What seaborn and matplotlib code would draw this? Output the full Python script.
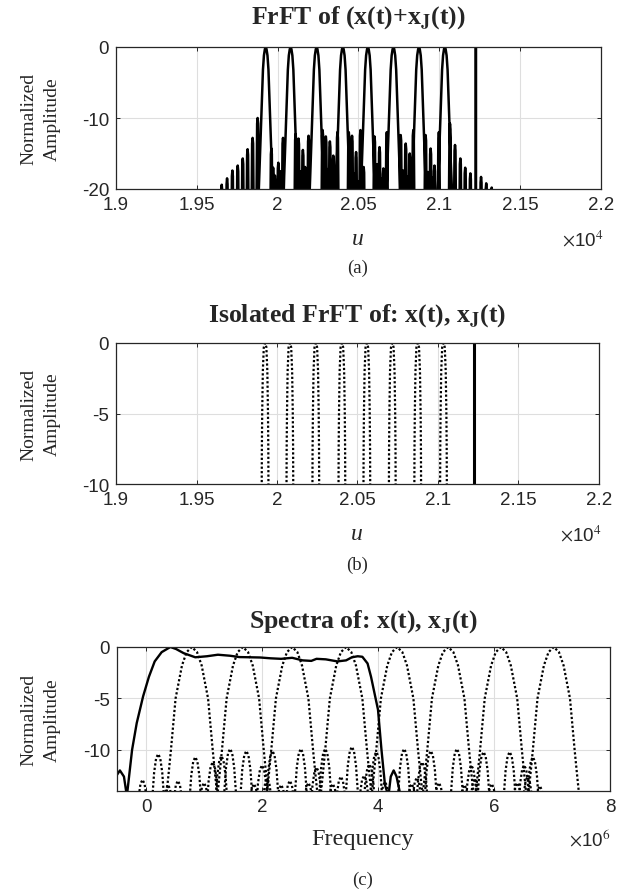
import matplotlib
matplotlib.use("Agg")
import matplotlib.pyplot as plt
import pandas as pd
import seaborn as sns
from matplotlib.ticker import FormatStrFormatter

# ---- panel (a) / (b): FrFT domain, u in units of 1e4 ----
peak_u = [1.9926, 2.0080, 2.0241, 2.0403, 2.0558, 2.0716, 2.0874, 2.1034]
jammer_u = 2.1226

# main lobe shape: offset from peak, level in dB
lobe_a_du = [-0.0044, -0.0035, -0.0027, -0.0017, -0.0011, -0.0005, 0.0,
             0.0005, 0.0011, 0.0017, 0.0027, 0.0035, 0.0044]
lobe_a_db = [-21.0, -15.0, -10.0, -3.2, -1.2, -0.3, 0.0,
             -0.3, -1.2, -3.2, -10.0, -15.0, -21.0]

# side lobe tips in panel (a)
side_u = [1.9654, 1.9687, 1.9720, 1.9753, 1.9784, 1.9814, 1.9845, 1.9876,
          1.9961, 1.9972, 1.9983, 1.9994, 2.0004, 2.0018, 2.0033,
          2.0111, 2.0120, 2.0129, 2.0142, 2.0156, 2.0170, 2.0191,
          2.0278, 2.0288, 2.0298, 2.0310, 2.0323, 2.0344, 2.0370,
          2.0440, 2.0450, 2.0460, 2.0472, 2.0485, 2.0498, 2.0512, 2.0532,
          2.0599, 2.0607, 2.0615, 2.0630, 2.0642, 2.0654, 2.0675,
          2.0761, 2.0776, 2.0784, 2.0792, 2.0805, 2.0817, 2.0839,
          2.0915, 2.0922, 2.0930, 2.0946, 2.0958, 2.0970, 2.0997,
          2.1066, 2.1097, 2.1130, 2.1160, 2.1192, 2.1258, 2.1290, 2.1324]
side_db = [-19.4, -18.5, -17.4, -16.7, -15.7, -14.4, -12.8, -10.0,
           -14.3, -17.0, -18.1, -18.8, -16.3, -17.5, -12.8,
           -12.3, -18.6, -12.9, -17.5, -14.5, -16.9, -12.5,
           -11.7, -18.2, -12.6, -17.2, -13.3, -15.3, -12.0,
           -12.0, -18.4, -12.5, -17.8, -14.8, -18.9, -11.7, -16.9,
           -12.6, -18.8, -16.5, -14.1, -18.5, -17.1, -12.0,
           -12.4, -17.4, -18.7, -13.6, -18.2, -15.0, -11.7,
           -12.4, -18.9, -17.6, -14.3, -18.4, -16.7, -12.0,
           -10.8, -13.8, -15.7, -17.0, -17.8, -18.3, -19.2, -19.8]
spike_du = [-0.0007, -0.0003, 0.0, 0.0003, 0.0007]
spike_db = [-12.0, -0.8, 0.0, -0.8, -12.0]

# isolated lobe shape
lobe_b_du = [-0.0021, -0.0020, -0.0018, -0.0014, -0.0008, 0.0,
             0.0008, 0.0014, 0.0018, 0.0020, 0.0021]
lobe_b_db = [-10.5, -7.5, -5.0, -2.0, -0.3, 0.0,
             -0.3, -2.0, -5.0, -7.5, -10.5]

# ---- panel (c): spectra, frequency in units of 1e6 ----
sig_f = [-0.58, -0.52, -0.45, -0.38, -0.33, -0.29, -0.24, -0.16, -0.05, 0.05,
         0.15, 0.27, 0.42, 0.52, 0.65, 0.85, 1.05, 1.24, 1.45, 1.61, 1.80,
         1.97, 2.15, 2.33, 2.52, 2.70, 2.85, 2.94, 3.10, 3.30, 3.45, 3.55,
         3.65, 3.73, 3.82, 3.88, 3.94, 4.00, 4.06, 4.12, 4.18, 4.22, 4.27,
         4.32, 4.39]
sig_db = [-14.5, -12.6, -12.0, -12.6, -14.5, -12.5, -10.0, -7.4, -4.8, -2.9,
          -1.4, -0.5, 0.0, -0.2, -0.6, -1.0, -0.9, -0.75, -0.85, -0.98, -1.0,
          -1.02, -1.1, -1.15, -1.05, -1.3, -1.35, -1.15, -1.2, -1.4, -1.3, -1.0,
          -0.9, -0.95, -1.6, -2.9, -4.5, -6.1, -10.0, -13.4, -14.5, -12.6,
          -12.0, -12.6, -14.5]

jam_f = [0.79, 1.67, 2.52, 3.45, 4.33, 5.21, 6.12, 7.03]
lobe_c_df = [-0.44, -0.40, -0.36, -0.28, -0.17, -0.09, 0.0,
             0.09, 0.17, 0.28, 0.36, 0.40, 0.44]
lobe_c_db = [-14.5, -12.3, -10.0, -5.0, -1.8, -0.5, 0.0,
             -0.5, -1.8, -5.0, -10.0, -12.3, -14.5]

jside_f = [-0.06, 0.21, 0.38, 0.55, 0.85, 1.00, 1.15, 1.30, 1.45, 1.73, 1.86,
           2.00, 2.09, 2.18, 2.33, 2.48, 2.67, 2.80, 2.94, 3.09, 3.22, 3.36,
           3.55, 3.76, 3.85, 3.97, 4.12, 4.45, 4.58, 4.67, 4.76, 4.91, 5.05,
           5.36, 5.49, 5.61, 5.67, 5.82, 5.96, 6.27, 6.40, 6.52, 6.58, 6.67,
           6.79]
jside_db = [-12.9, -10.4, -13.4, -13.0, -10.7, -13.2, -11.2, -10.6, -9.9, -10.1,
            -13.3, -11.5, -12.8, -10.1, -13.4, -13.0, -9.9, -13.2, -11.7, -9.9,
            -13.3, -12.6, -9.7, -12.5, -11.4, -10.2, -13.1, -9.9, -13.3, -12.7,
            -11.2, -10.1, -13.2, -9.9, -13.4, -11.5, -12.8, -10.2, -13.3, -10.2,
            -13.2, -11.5, -12.6, -10.7, -13.5]
sidelobe_df = [-0.11, -0.07, -0.035, 0.0, 0.035, 0.07, 0.11]
sidelobe_db = [-5.0, -1.8, -0.4, 0.0, -0.4, -1.8, -5.0]


def shaped(centers, tops, du, ddb):
    rows = []
    for k, (c, t) in enumerate(zip(centers, tops)):
        for d, h in zip(du, ddb):
            rows.append({"x": c + d, "y": t + h, "lobe": k})
    return pd.DataFrame(rows)


# combined trace for panel (a): lobes, side lobes and jammer, ordered along u
parts = [shaped(peak_u, [0.0] * len(peak_u), lobe_a_du, lobe_a_db),
         shaped(side_u, side_db, spike_du, spike_db),
         shaped([jammer_u], [0.0], [0.0, 0.0, 0.0], [-21.0, 0.0, -21.0])]
trace_a = []
for p in parts:
    for k, g in p.groupby("lobe"):
        trace_a.append((g["x"].mean(), g))
trace_a.sort(key=lambda t: t[0])
df_a = pd.concat([g for _, g in trace_a], ignore_index=True)

df_b = shaped(peak_u, [0.0] * len(peak_u), lobe_b_du, lobe_b_db)
df_bj = pd.DataFrame({"x": [jammer_u, jammer_u], "y": [-10.5, 0.0]})
df_sig = pd.DataFrame({"f": sig_f, "db": sig_db})
df_jm = shaped(jam_f, [0.0] * len(jam_f), lobe_c_df, lobe_c_db)
df_js = shaped(jside_f, jside_db, sidelobe_df, sidelobe_db)
df_js["lobe"] += 100
df_c = pd.concat([df_jm, df_js], ignore_index=True)

sns.set_style("ticks")
plt.rcParams["font.family"] = ["Liberation Sans", "DejaVu Sans"]
plt.rcParams["mathtext.fontset"] = "stix"

W, H = 634, 895
fig = plt.figure(figsize=(W / 100, H / 100), dpi=100)
fig.patch.set_facecolor("white")


def px(x0, y0, x1, y1):
    return [x0 / W, 1 - y1 / H, (x1 - x0) / W, (y1 - y0) / H]


ax_a = fig.add_axes(px(116, 48, 601, 190))
ax_b = fig.add_axes(px(116, 344, 599, 485))
ax_c = fig.add_axes(px(117, 648, 610, 792))

serif = ["Liberation Serif", "DejaVu Serif"]
dot = (0, (1, 1))

sns.lineplot(data=df_a, x="x", y="y", sort=False, estimator=None,
             color="black", linewidth=1.8, ax=ax_a)

sns.lineplot(data=df_b, x="x", y="y", units="lobe", sort=False,
             estimator=None, color="black", linewidth=1.6, ax=ax_b,
             linestyle=dot)
sns.lineplot(data=df_bj, x="x", y="y", sort=False, estimator=None,
             color="black", linewidth=2.2, ax=ax_b)

sns.lineplot(data=df_c, x="x", y="y", units="lobe", sort=False,
             estimator=None, color="black", linewidth=1.6, ax=ax_c,
             linestyle=dot)
sns.lineplot(data=df_sig, x="f", y="db", sort=False, estimator=None,
             color="black", linewidth=1.7, ax=ax_c)

setup = [
    (ax_a, (1.9, 2.2), [1.9, 1.95, 2.0, 2.05, 2.1, 2.15, 2.2], (-20, 0), [-20, -10, 0]),
    (ax_b, (1.9, 2.2), [1.9, 1.95, 2.0, 2.05, 2.1, 2.15, 2.2], (-10, 0), [-10, -5, 0]),
    (ax_c, (-0.5, 8), [0, 2, 4, 6, 8], (-14, 0), [-10, -5, 0]),
]
for ax, xl, xt, yl, yt in setup:
    ax.set_xlim(*xl)
    ax.set_ylim(*yl)
    ax.set_xticks(xt)
    ax.set_yticks(yt)
    ax.xaxis.set_major_formatter(FormatStrFormatter("%g"))
    ax.yaxis.set_major_formatter(FormatStrFormatter("%g"))
    ax.grid(True, color="#dedede", linewidth=0.8)
    ax.set_axisbelow(True)
    ax.set_xlabel("")
    ax.set_ylabel("")
    ax.tick_params(direction="in", length=3, width=0.7, labelsize=13.5,
                   colors="#262626", top=True, right=True, pad=5)
    for s in ax.spines.values():
        s.set_visible(True)
        s.set_color("#262626")
        s.set_linewidth(0.9)
    cy = ax.get_position().y0 + ax.get_position().height / 2
    fig.text(41 / W, cy, "Normalized\nAmplitude", rotation=90, ha="center",
             va="center", fontsize=14, family=serif, linespacing=1.5,
             color="#262626")


def ftext(x, y, s, **kw):
    fig.text(x / W, 1 - y / H, s, ha="center", va="center", **kw)


ftext(358, 18, r"FrFT of (x(t)+x$_\mathbf{J}$(t))", fontsize=18.5,
      fontweight="bold", family=serif)
ftext(357, 316, r"Isolated FrFT of: x(t), x$_\mathbf{J}$(t)", fontsize=18.5,
      fontweight="bold", family=serif)
ftext(363, 622, r"Spectra of: x(t), x$_\mathbf{J}$(t)", fontsize=18.5,
      fontweight="bold", family=serif)

ftext(358, 240, "u", fontsize=17, style="italic", family=serif, color="#262626")
ftext(357, 535, "u", fontsize=17, style="italic", family=serif, color="#262626")
ftext(363, 840, "Frequency", fontsize=17.5, family=serif, color="#262626")

ftext(583, 240, r"$\times$10$^4$", fontsize=13.5, color="#262626")
ftext(581, 535, r"$\times$10$^4$", fontsize=13.5, color="#262626")
ftext(590, 840, r"$\times$10$^6$", fontsize=13.5, color="#262626")

ftext(358, 268, "(a)", fontsize=13.5, family=serif)
ftext(357, 565, "(b)", fontsize=13.5, family=serif)
ftext(363, 880, "(c)", fontsize=13.5, family=serif)

fig.savefig("out.png", dpi=100, facecolor="white")
